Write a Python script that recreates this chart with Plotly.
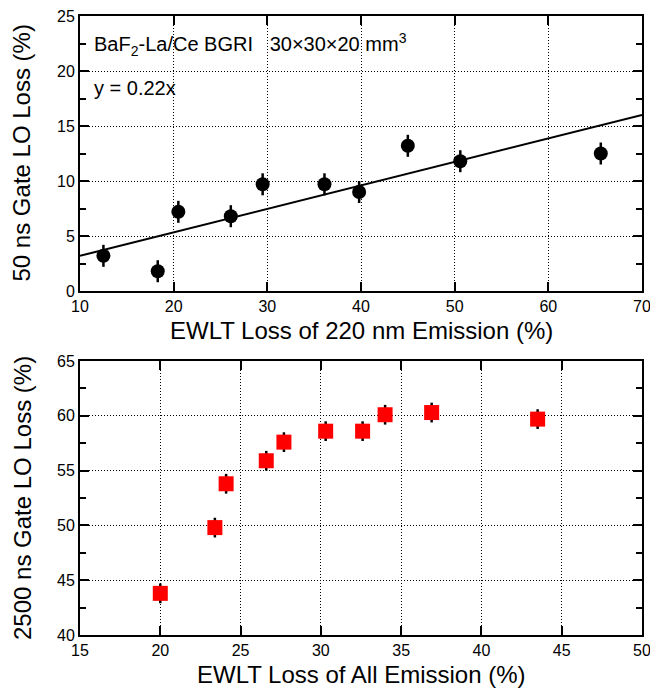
import plotly.graph_objects as go
from plotly.subplots import make_subplots

# Top panel: 50 ns gate LO loss vs EWLT loss of 220 nm emission
top_x = [12.5, 18.3, 20.5, 26.1, 29.5, 36.1, 39.8, 45.0, 50.6, 65.6]
top_y = [3.2, 1.8, 7.2, 6.8, 9.7, 9.7, 9.0, 13.2, 11.8, 12.5]
top_err = [1.0, 1.0, 1.0, 1.0, 1.0, 1.0, 1.0, 1.0, 1.0, 1.0]
fit_x = [10, 70]
fit_y = [3.2, 16.0]

# Bottom panel: 2500 ns gate LO loss vs EWLT loss of all emission
bot_x = [20.0, 23.4, 24.1, 26.6, 27.7, 30.3, 32.6, 34.0, 36.9, 43.5]
bot_y = [43.8, 49.8, 53.8, 55.9, 57.6, 58.6, 58.6, 60.1, 60.3, 59.7]
bot_err = [0.9, 0.9, 0.9, 0.9, 0.9, 0.9, 0.9, 0.9, 0.9, 0.9]

FONT = "Liberation Sans, Arial, sans-serif"

fig = make_subplots(rows=2, cols=1)

fig.add_trace(go.Scatter(x=fit_x, y=fit_y, mode="lines",
                         line=dict(color="black", width=2), showlegend=False),
              row=1, col=1)
fig.add_trace(go.Scatter(x=top_x, y=top_y, mode="markers",
                         marker=dict(color="black", size=14, symbol="circle"),
                         error_y=dict(type="data", array=top_err, color="black",
                                      thickness=2.5, width=0),
                         showlegend=False), row=1, col=1)
fig.add_trace(go.Scatter(x=bot_x, y=bot_y, mode="markers",
                         marker=dict(color="#ff0000", size=15, symbol="square"),
                         error_y=dict(type="data", array=bot_err, color="black",
                                      thickness=2.5, width=0),
                         showlegend=False), row=2, col=1)

axis_common = dict(
    showline=True, linecolor="black", linewidth=2, mirror="allticks",
    ticks="inside", ticklen=9, tickwidth=1.5, tickcolor="black",
    showgrid=True, gridcolor="black", griddash="1px,2px", gridwidth=1,
    zeroline=False, automargin=False, ticklabeloverflow="allow",
    tickfont=dict(family=FONT, size=16, color="black"),
)

fig.update_xaxes(**axis_common)
fig.update_yaxes(**axis_common)

fig.update_xaxes(range=[10, 70], dtick=10, tick0=10, row=1, col=1)
fig.update_yaxes(range=[0, 25], dtick=5,
                 minor=dict(dtick=2.5, ticks="inside", ticklen=6, tickcolor="black", showgrid=False),
                 row=1, col=1)
fig.update_xaxes(range=[15, 50], dtick=5, tick0=15, row=2, col=1)
fig.update_yaxes(range=[40, 65], dtick=5,
                 minor=dict(dtick=2.5, ticks="inside", ticklen=6, tickcolor="black", showgrid=False),
                 row=2, col=1)

title_font = dict(family=FONT, size=24, color="black")

fig.update_layout(
    xaxis=dict(domain=[0, 1]), yaxis=dict(domain=[0.5557, 1.0]),
    xaxis2=dict(domain=[0, 1]), yaxis2=dict(domain=[0.0, 0.4426]),
    width=650, height=689,
    margin=dict(l=80, r=8, t=16, b=54),
    plot_bgcolor="white", paper_bgcolor="white",
    font=dict(family=FONT, color="black"),
    annotations=[
        dict(text="BaF<sub>2</sub>-La/Ce BGRI   30×30×20 mm<sup>3</sup>",
             xref="x", yref="y", x=11.3, y=22.4, xanchor="left", yanchor="middle",
             showarrow=False, font=dict(family=FONT, size=20, color="black")),
        dict(text="y = 0.22x",
             xref="x", yref="y", x=11.3, y=18.5, xanchor="left", yanchor="middle",
             showarrow=False, font=dict(family=FONT, size=20, color="black")),
        dict(text="EWLT Loss of 220 nm Emission (%)",
             xref="x domain", yref="y domain", x=0.5, y=0, yshift=-39,
             xanchor="center", yanchor="middle", showarrow=False, font=title_font),
        dict(text="EWLT Loss of All Emission (%)",
             xref="x2 domain", yref="y2 domain", x=0.5, y=0, yshift=-39,
             xanchor="center", yanchor="middle", showarrow=False, font=title_font),
        dict(text="50 ns Gate LO Loss (%)", textangle=-90,
             xref="x domain", yref="y domain", x=0, y=0.5, xshift=-58,
             xanchor="center", yanchor="middle", showarrow=False, font=title_font),
        dict(text="2500 ns Gate LO Loss (%)", textangle=-90,
             xref="x2 domain", yref="y2 domain", x=0, y=0.5, xshift=-58,
             xanchor="center", yanchor="middle", showarrow=False, font=title_font),
    ],
)

fig.write_html("out.html")
